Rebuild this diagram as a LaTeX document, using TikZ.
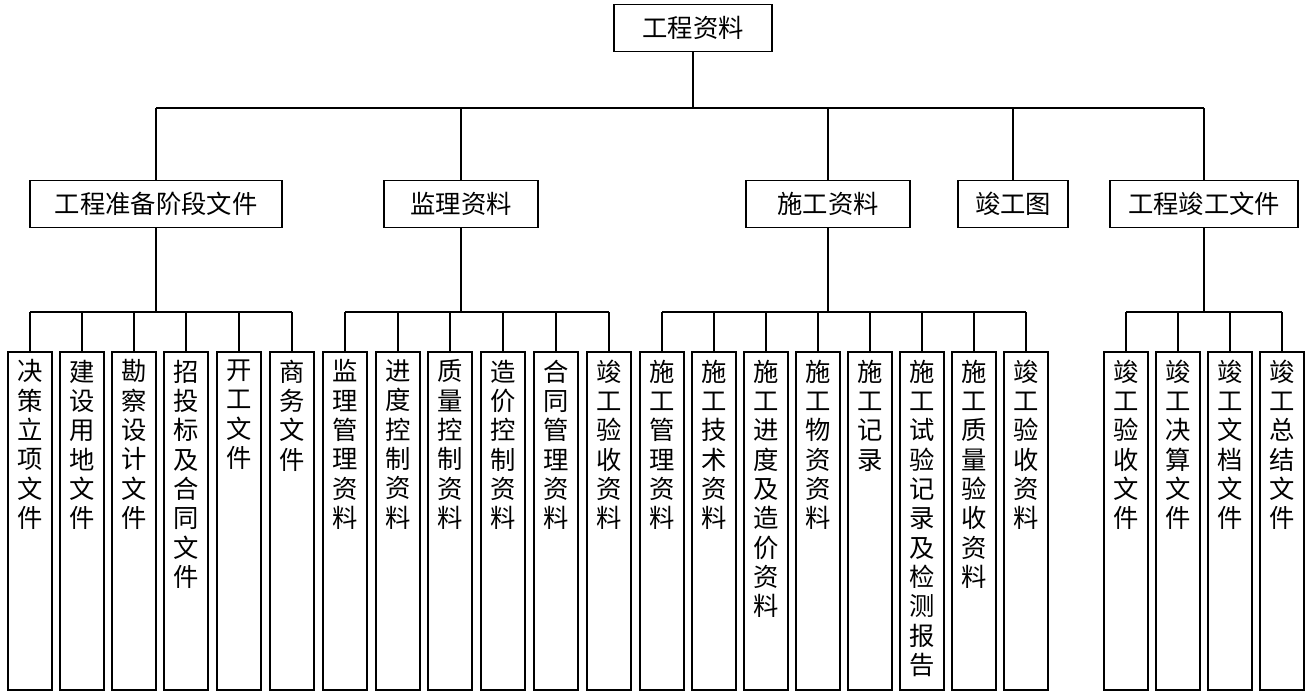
\documentclass[tikz,border=0pt]{standalone}
\usepackage{fontspec}
\newfontfamily\cjk{Noto Sans CJK SC}
\begin{document}
\begin{tikzpicture}[x=0.75pt,y=-0.75pt,line width=1.1pt,
  box/.style={draw,rectangle,inner sep=0pt,font=\cjk\fontsize{19}{21}\selectfont},
  vtxt/.style={anchor=north,align=center,inner sep=0pt,font=\cjk\fontsize{19}{22}\selectfont}]
\useasboundingbox (0,0) rectangle (1308,697);
\node[box,minimum width=158*0.75pt,minimum height=47*0.75pt] (root) at (693,28) {工程资料};
\foreach \n/\cx/\w/\t in {a/156/252/工程准备阶段文件, b/461/154/监理资料, c/828/164/施工资料, d/1013/110/竣工图, e/1204/188/工程竣工文件}{
  \node[box,minimum width=\w*0.75pt,minimum height=47*0.75pt] (\n) at (\cx,204) {\t};
}
\coordinate (bus) at (693,108);
\draw (root.south) -- (bus);
\draw (a.north |- bus) -- (e.north |- bus);
\foreach \n in {a,b,c,d,e} \draw (\n.north |- bus) -- (\n.north);
% leaves
\foreach \p/\x/\t/\g in {
 a1/30/决\\策\\立\\项\\文\\件/a, a2/82/建\\设\\用\\地\\文\\件/a, a3/134/勘\\察\\设\\计\\文\\件/a,
 a4/186/招\\投\\标\\及\\合\\同\\文\\件/a, a5/239/开\\工\\文\\件/a, a6/292/商\\务\\文\\件/a,
 b1/345/监\\理\\管\\理\\资\\料/b, b2/398/进\\度\\控\\制\\资\\料/b, b3/450/质\\量\\控\\制\\资\\料/b,
 b4/503/造\\价\\控\\制\\资\\料/b, b5/556/合\\同\\管\\理\\资\\料/b, b6/609/竣\\工\\验\\收\\资\\料/b,
 c1/662/施\\工\\管\\理\\资\\料/c, c2/714/施\\工\\技\\术\\资\\料/c, c3/766/施\\工\\进\\度\\及\\造\\价\\资\\料/c,
 c4/818/施\\工\\物\\资\\资\\料/c, c5/870/施\\工\\记\\录/c, c6/922/施\\工\\试\\验\\记\\录\\及\\检\\测\\报\\告/c,
 c7/974/施\\工\\质\\量\\验\\收\\资\\料/c, c8/1026/竣\\工\\验\\收\\资\\料/c,
 e1/1126/竣\\工\\验\\收\\文\\件/e, e2/1178/竣\\工\\决\\算\\文\\件/e, e3/1230/竣\\工\\文\\档\\文\\件/e, e4/1282/竣\\工\\总\\结\\文\\件/e}{
  \draw (\x-22,352) rectangle (\x+22,690);
  \node[vtxt] (\p) at (\x,359) {\t};
  \draw (\x,312) -- (\x,352);
}
\coordinate (ja) at (156,312); \coordinate (jb) at (461,312); \coordinate (jc) at (828,312); \coordinate (je) at (1204,312);
\draw (a.south) -- (ja); \draw (b.south) -- (jb); \draw (c.south) -- (jc); \draw (e.south) -- (je);
\draw (a1.north |- ja) -- (a6.north |- ja);
\draw (b1.north |- jb) -- (b6.north |- jb);
\draw (c1.north |- jc) -- (c8.north |- jc);
\draw (e1.north |- je) -- (e4.north |- je);
\end{tikzpicture}
\end{document}
